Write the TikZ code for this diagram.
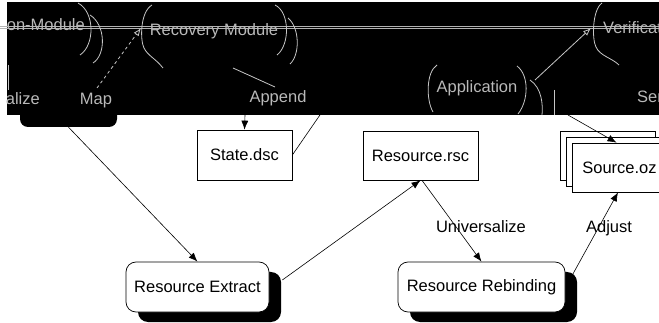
\documentclass[tikz,border=0pt]{standalone}
\usepackage{fontspec}
\setmainfont{Liberation Sans}
\usetikzlibrary{arrows.meta,shadows}
\begin{document}
\begin{tikzpicture}[x=1pt,y=-1pt,
  every node/.style={font=\fontsize{16.5}{19}\selectfont},
  box/.style={draw, line width=0.7pt, fill=white, inner sep=0pt},
  rbox/.style={box, rounded corners=10pt, drop shadow={shadow xshift=12pt, shadow yshift=-10pt, fill=black, opacity=1}},
  arr/.style={line width=0.6pt, -{Latex[length=9pt,width=7pt]}},
  ghost/.style={draw=gray!45, line width=0.8pt},
  garr/.style={ghost, -{Latex[open,length=8pt,width=6pt]}},
  gtext/.style={text=gray!55, inner sep=0pt},
]
\useasboundingbox (0,0) rectangle (659,323);
% dark band
\fill[black] (7,2) rectangle (659,115);
\node[fill=black, rounded corners=8pt, minimum width=97pt, minimum height=50pt, inner sep=0pt] (blk) at (68.5,102) {};
% double line
\draw[gray!60, line width=0.8pt] (0,26) -- (659,26);
\draw[gray!60, line width=0.8pt] (0,28.7) -- (659,28.7);
% ghost texts
\node[gtext, anchor=east] (tmod) at (85,25) {on-Module};
\node[gtext] (trec) at (214,31) {Recovery Module};
\node[gtext, anchor=west] (tver) at (603,28) {Verification Module};
\node[gtext, anchor=east] (talz) at (40,99) {alize};
\node[gtext] (tmap) at (96,101) {Map};
\node[gtext] (tapp) at (278,98) {Append};
\node[gtext] (tappl) at (477,88) {Application};
\node[gtext, anchor=west] (tser) at (637,97) {Serialize};
% ghost brackets
\draw[ghost] (78,3) .. controls (95,12) and (95,45) .. (80,55);
\draw[ghost] (90,15) .. controls (106,25) and (106,55) .. (93,63);
\draw[ghost] (152,5) .. controls (140,12) and (140,40) .. (144,48) .. controls (148,56) and (155,58) .. (163,68);
\draw[ghost] (275,5) .. controls (290,12) and (290,45) .. (277,55);
\draw[ghost] (288,18) .. controls (300,28) and (300,55) .. (290,64);
\draw[ghost] (602,3) .. controls (592,10) and (592,40) .. (596,47) .. controls (600,56) and (612,58) .. (619,65);
\draw[ghost] (437,65) .. controls (426,72) and (426,100) .. (433,112);
\draw[ghost] (517,66) .. controls (529,75) and (529,100) .. (518,114);
\draw[ghost] (530,80) .. controls (542,88) and (543,105) .. (542,115);
\draw[ghost] (554,90) -- (554,115);
\draw[ghost] (8,65) -- (8,90);
% ghost connectors
\coordinate (recL) at (141,28);
\coordinate (mapS) at (97,88);
\coordinate (appR) at (535,80);
\coordinate (verL) at (591,28);
\coordinate (recB) at (233,68);
\coordinate (appE) at (275,87);
\draw[garr, dashed] (mapS) -- (recL);
\draw[garr] (appR) -- (verL);
\draw[ghost] (recB) -- (appE);
% lower nodes
\node[box, minimum width=95pt, minimum height=50pt] (st) at (244.5,155) {State.dsc};
\node[box, minimum width=115pt, minimum height=49pt] (rsc) at (420.5,155.5) {Resource.rsc};
\node[rbox, minimum width=143pt, minimum height=50pt] (re) at (197.5,287) {Resource Extract};
\node[rbox, minimum width=167pt, minimum height=50pt] (rr) at (481.5,287) {Resource Rebinding};
\node[box, minimum width=95pt, minimum height=49pt] (src3) at (607.5,155.5) {};
\node[box, minimum width=95pt, minimum height=49pt] (src2) at (613.5,161.5) {};
\node[box, minimum width=95pt, minimum height=49pt] (src) at (619.5,167.5) {Source.oz};
% connectors
\coordinate (stIn) at (245,115);
\coordinate (stOut) at (322,112);
\coordinate (srcIn) at (568,115);
\draw[arr] (stIn) -- (st.north);
\draw[line width=0.6pt] (st.east) -- (stOut);
\draw[arr] (srcIn) -- ([xshift=-3pt]src.north);
\draw[arr] (blk.south) -- (re.north);
\draw[arr] ([xshift=13pt,yshift=7pt]re.east) -- (rsc.south);
\draw[arr] ([xshift=1.5pt]rsc.south) -- (rr.north);
\draw[arr] ([xshift=7pt,yshift=12pt]rr.east) -- ([xshift=-1.5pt]src.south);
\node (lu) at (481,227) {Universalize};
\node (la) at (609,228) {Adjust};
\end{tikzpicture}
\end{document}
